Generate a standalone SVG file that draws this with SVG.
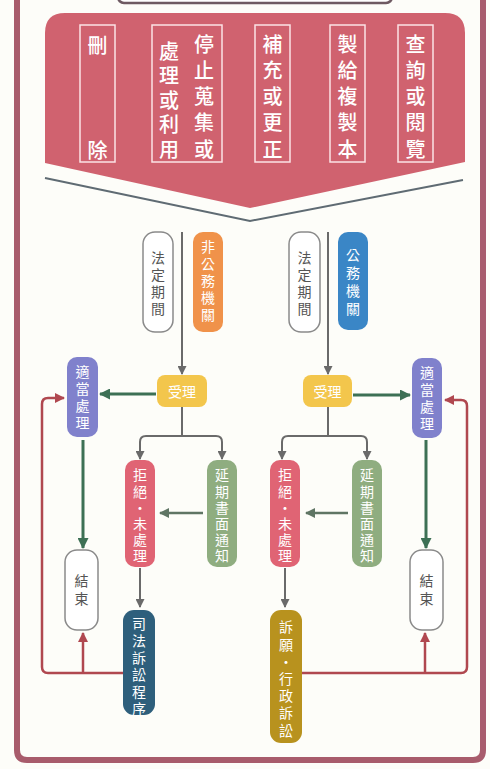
<svg xmlns="http://www.w3.org/2000/svg" width="490" height="769" viewBox="0 0 490 769">
<style>
.t{font-family:"Noto Sans CJK TC","Noto Sans CJK SC",sans-serif;text-anchor:middle;dominant-baseline:central}
.v{font-family:"Noto Sans CJK TC","Noto Sans CJK SC",sans-serif;writing-mode:vertical-rl;text-anchor:start}
.wb{fill:#ffffff;font-size:20px;font-weight:500}
.w{fill:#ffffff;font-size:14px}
.d{fill:#555555;font-size:14px}
.ob{fill:none;stroke:#fbe3e6;stroke-width:1.5}
.wn{fill:#ffffff;stroke:#8a8a8a;stroke-width:1.5}
.cg{fill:none;stroke:#6a6a6a;stroke-width:2}
.cgr{fill:none;stroke:#3d7055;stroke-width:3}
.cr{fill:none;stroke:#b04850;stroke-width:2.5}
.cs{fill:none;stroke:#5f7564;stroke-width:2.5}
</style>
<defs>
<marker id="ag" markerUnits="userSpaceOnUse" markerWidth="9" markerHeight="9" refX="8" refY="4.5" orient="auto"><path d="M0,0 L9,4.5 L0,9 Z" fill="#6a6a6a"/></marker>
<marker id="agr" markerUnits="userSpaceOnUse" markerWidth="11" markerHeight="11" refX="10" refY="5.5" orient="auto"><path d="M0,0 L11,5.5 L0,11 Z" fill="#3d7055"/></marker>
<marker id="ar" markerUnits="userSpaceOnUse" markerWidth="10" markerHeight="10" refX="9" refY="5" orient="auto"><path d="M0,0 L10,5 L0,10 Z" fill="#b04850"/></marker>
<marker id="as" markerUnits="userSpaceOnUse" markerWidth="10" markerHeight="10" refX="9" refY="5" orient="auto"><path d="M0,0 L10,5 L0,10 Z" fill="#5f7564"/></marker>
</defs>
<rect x="0" y="0" width="490" height="769" fill="#fdfdf9"/>
<g id="frame">
<path d="M17,-10 L17,750 Q17,760 27,760 L473,760 Q483,760 483,750 L483,-10" fill="none" stroke="#a85c6c" stroke-width="6"/>
<rect x="118" y="-20" width="274" height="23" rx="6" fill="#ffffff" stroke="#6e5a62" stroke-width="2.5"/>
</g>
<g id="banner">
<path d="M45,33 Q45,13 65,13 L445,13 Q465,13 465,33 L465,162 L250,208 L45,163 Z" fill="#d0626f"/>
<polyline points="45,178 250,221 463,180" fill="none" stroke="#5f6b73" stroke-width="2"/>
<g id="b1"><rect class="ob" x="80" y="25" width="35" height="137"/>
<text class="t wb" x="97.5" y="44">刪</text><text class="t wb" x="97.5" y="149">除</text></g>
<g id="b2"><rect class="ob" x="152" y="25" width="70" height="137"/>
<text class="v wb" x="204" y="34" letter-spacing="6.25">停止蒐集或</text>
<text class="v wb" x="169" y="41" letter-spacing="4.5">處理或利用</text></g>
<g id="b3"><rect class="ob" x="255" y="25" width="35" height="137"/>
<text class="v wb" x="272.5" y="34" letter-spacing="6.25">補充或更正</text></g>
<g id="b4"><rect class="ob" x="330" y="25" width="35" height="137"/>
<text class="v wb" x="347.5" y="34" letter-spacing="6.25">製給複製本</text></g>
<g id="b5"><rect class="ob" x="398" y="25" width="35" height="137"/>
<text class="v wb" x="415.5" y="34" letter-spacing="6.25">查詢或閱覽</text></g>
</g>
<g id="connectors">
<line class="cg" x1="182" y1="232" x2="182" y2="374" marker-end="url(#ag)"/>
<line class="cg" x1="328" y1="232" x2="328" y2="374" marker-end="url(#ag)"/>
<line class="cgr" x1="156" y1="394" x2="100" y2="394" marker-end="url(#agr)"/>
<line class="cgr" x1="353" y1="395" x2="410" y2="395" marker-end="url(#agr)"/>
<line class="cgr" x1="83" y1="440" x2="83" y2="548" marker-end="url(#agr)"/>
<line class="cgr" x1="426" y1="440" x2="426" y2="548" marker-end="url(#agr)"/>
<path class="cg" d="M182,407 L182,436 M146,436 L216,436 M140,446 L140,442 Q140,436 146,436 M216,436 Q222,436 222,442 L222,446"/>
<line class="cg" x1="140" y1="445" x2="140" y2="459" marker-end="url(#ag)"/>
<line class="cg" x1="222" y1="445" x2="222" y2="459" marker-end="url(#ag)"/>
<path class="cg" d="M328,407 L328,436 M288,436 L361,436 M282,446 L282,442 Q282,436 288,436 M361,436 Q367,436 367,442 L367,446"/>
<line class="cg" x1="282" y1="445" x2="282" y2="459" marker-end="url(#ag)"/>
<line class="cg" x1="367" y1="445" x2="367" y2="459" marker-end="url(#ag)"/>
<line class="cs" x1="203" y1="513" x2="160" y2="513" marker-end="url(#as)"/>
<line class="cs" x1="348" y1="513" x2="306" y2="513" marker-end="url(#as)"/>
<line class="cg" x1="140" y1="568" x2="140" y2="607" marker-end="url(#ag)"/>
<line class="cg" x1="285" y1="568" x2="285" y2="607" marker-end="url(#ag)"/>
<path class="cr" d="M123,673 L48,673 Q42,673 42,667 L42,404 Q42,398 48,398 L64,398" marker-end="url(#ar)"/>
<line class="cr" x1="83" y1="673" x2="83" y2="633" marker-end="url(#ar)"/>
<path class="cr" d="M302,673 L461,673 Q467,673 467,667 L467,406 Q467,400 461,400 L445,400" marker-end="url(#ar)"/>
<line class="cr" x1="425" y1="673" x2="425" y2="633" marker-end="url(#ar)"/>
</g>
<g id="n_lawL"><rect class="wn" x="143" y="232" width="30" height="100" rx="12"/>
<text class="v d" x="158" y="251" letter-spacing="3">法定期間</text></g>
<g id="n_nonpub"><rect x="193" y="232" width="30" height="100" rx="10" fill="#f0924a"/>
<text class="v w" x="208" y="240" letter-spacing="3">非公務機關</text></g>
<g id="n_lawR"><rect class="wn" x="289" y="232" width="31" height="100" rx="12"/>
<text class="v d" x="304.5" y="251" letter-spacing="3">法定期間</text></g>
<g id="n_pub"><rect x="338" y="232" width="30" height="98" rx="10" fill="#3a86c6"/>
<text class="v w" x="353" y="248" letter-spacing="4">公務機關</text></g>
<g id="n_accL"><rect x="157" y="375" width="50" height="32" rx="8" fill="#f3c64c"/>
<text class="t w" x="182" y="391">受理</text></g>
<g id="n_accR"><rect x="303" y="375" width="49" height="32" rx="8" fill="#f3c64c"/>
<text class="t w" x="327.5" y="391">受理</text></g>
<g id="n_properL"><rect x="67" y="357" width="31" height="80" rx="10" fill="#8081cc"/>
<text class="v w" x="82.5" y="365" letter-spacing="3">適當處理</text></g>
<g id="n_properR"><rect x="412" y="358" width="30" height="80" rx="10" fill="#8081cc"/>
<text class="v w" x="427" y="366" letter-spacing="3">適當處理</text></g>
<g id="n_rejL"><rect x="125" y="460" width="30" height="107" rx="10" fill="#e06474"/>
<text class="v w" x="140" y="468" letter-spacing="2.2">拒絕・未處理</text></g>
<g id="n_delayL"><rect x="207" y="460" width="30" height="107" rx="10" fill="#8fad80"/>
<text class="v w" x="222" y="468" letter-spacing="2.2">延期書面通知</text></g>
<g id="n_rejR"><rect x="270" y="460" width="30" height="107" rx="10" fill="#e06474"/>
<text class="v w" x="285" y="468" letter-spacing="2.2">拒絕・未處理</text></g>
<g id="n_delayR"><rect x="352" y="460" width="30" height="107" rx="10" fill="#8fad80"/>
<text class="v w" x="367" y="468" letter-spacing="2.2">延期書面通知</text></g>
<g id="n_endL"><rect class="wn" x="65" y="550" width="33" height="80" rx="12"/>
<text class="v d" x="81.5" y="574" letter-spacing="4">結束</text></g>
<g id="n_endR"><rect class="wn" x="410" y="550" width="33" height="80" rx="12"/>
<text class="v d" x="426.5" y="574" letter-spacing="4">結束</text></g>
<g id="n_court"><rect x="123" y="610" width="32" height="105" rx="11" fill="#2e5f7c"/>
<text class="v w" x="139" y="617" letter-spacing="3">司法訴訟程序</text></g>
<g id="n_appeal"><rect x="270" y="610" width="32" height="133" rx="11" fill="#b8921e"/>
<text class="v w" x="286" y="620" letter-spacing="3.2">訴願・行政訴訟</text></g>
</svg>
